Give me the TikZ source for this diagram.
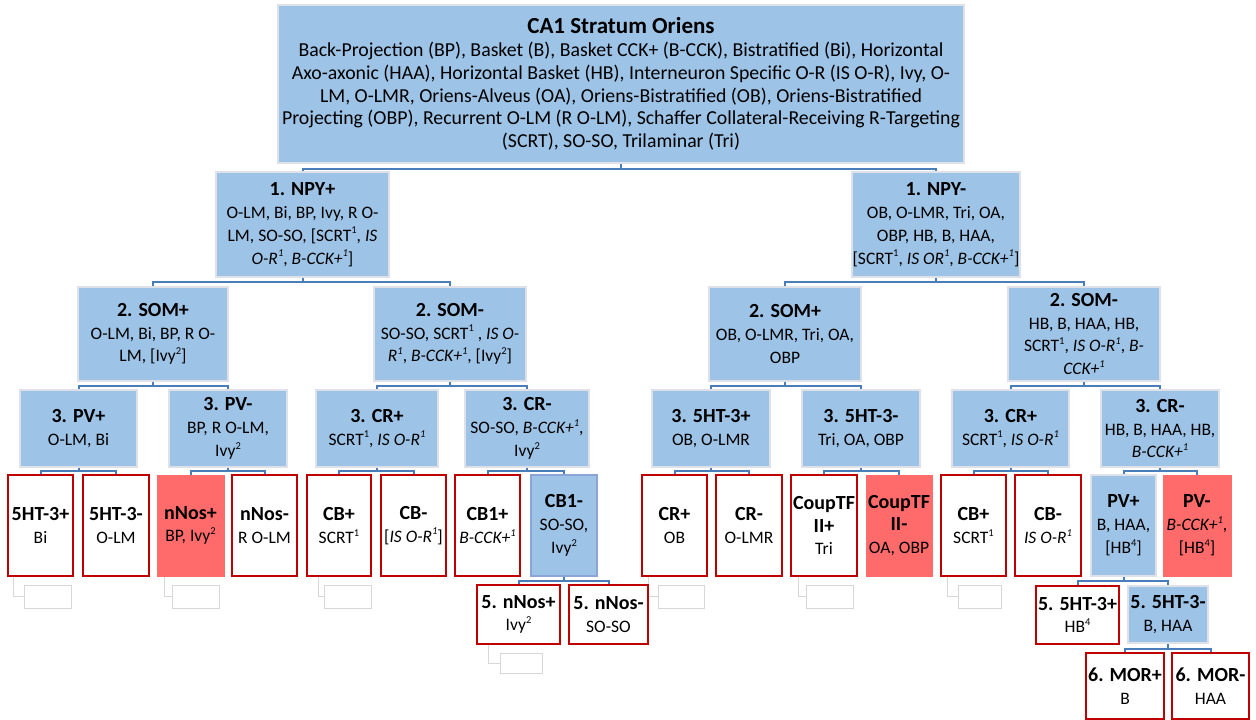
\documentclass[tikz,border=0pt]{standalone}
\usepackage{fontspec}
\setmainfont{Carlito}
\definecolor{bfill}{RGB}{157,195,230}
\definecolor{rfill}{RGB}{255,107,107}
\definecolor{rline}{RGB}{192,0,0}
\definecolor{cline}{RGB}{74,126,187}
\definecolor{bline}{RGB}{222,226,232}
\definecolor{cbline}{RGB}{140,165,215}
\definecolor{gline}{RGB}{215,215,215}
\newcommand\bodyf{\fontsize{17.5}{22.8}\selectfont}
\newcommand\topf{\fontsize{19.8}{24}\selectfont}
\newcommand\tl[1]{{\fontsize{20}{22.8}\selectfont\bfseries #1}}
\newcommand\sps[1]{\raisebox{0.42em}{\fontsize{10.5}{10.5}\selectfont #1}}
\newcommand\bx[7]{\node[#2, minimum width=#4pt-#3pt, minimum height=#6pt-#5pt] (#1) at ({(#3+#4)/2},{(#5+#6)/2}) {#7};}
\newcommand\famlink[4]{%
  \draw[conn] (#1.south) -- (#1.south |- #4);
  \draw[conn] (#2.north) -- (#2.north |- #4) -- (#3.north |- #4) -- (#3.north);}
\newcommand\ghostbox[6]{% name, x1, x2, y1, y2, vline x
  \node[ghost, minimum width=#3pt-#2pt, minimum height=#5pt-#4pt] (#1) at ({(#2+#3)/2},{(#4+#5)/2}) {};
  \coordinate (#1s) at (#6,{#4-8});
  \draw[ghostline] (#1s) |- (#1.west);}
\tikzset{
  base/.style={rectangle, inner sep=0pt, align=center, font=\bodyf, text=black},
  bluebox/.style={base, fill=bfill, draw=bline, line width=1.2pt},
  cbbox/.style={base, fill=bfill, draw=cbline, line width=1.2pt},
  redbox/.style={base, fill=white, draw=rline, line width=2pt},
  redfill/.style={base, fill=rfill, draw=rfill, line width=1pt},
  conn/.style={draw=cline, line width=2pt},
  ghost/.style={rectangle, draw=gline, line width=1pt, inner sep=0pt, fill=white},
  ghostline/.style={draw=gline, line width=1pt},
}
\begin{document}
\begin{tikzpicture}[x=1pt,y=-1pt]
\useasboundingbox[fill=white] (0,0) rectangle (1256,720);

% bus coordinates
\coordinate (y0) at (0,169);
\coordinate (y1) at (0,282);
\coordinate (y2) at (0,385.5);
\coordinate (y3) at (0,471);
\coordinate (y4) at (0,581);
\coordinate (y5) at (0,649);

% ghost shapes
\ghostbox{g1}{24}{71}{585}{608}{13}
\ghostbox{g2}{172}{219}{585}{608}{164}
\ghostbox{g3}{324}{371}{585}{608}{318}
\ghostbox{g4}{500}{542}{653}{673}{488}
\ghostbox{g5}{658}{704}{585}{608}{648}
\ghostbox{g6}{806}{853}{585}{608}{798}
\ghostbox{g7}{958}{1001}{585}{608}{947}

% top
\bx{top}{bluebox}{278}{964}{5}{163}{{\fontsize{23}{24}\selectfont\bfseries CA1 Stratum Oriens}\\
{\topf Back-Projection (BP), Basket (B), Basket CCK+ (B-CCK), Bistratified (Bi), Horizontal}\\
{\topf Axo-axonic (HAA), Horizontal Basket (HB), Interneuron Specific O-R (IS O-R), Ivy, O-}\\
{\topf LM, O-LMR, Oriens-Alveus (OA), Oriens-Bistratified (OB), Oriens-Bistratified}\\
{\topf Projecting (OBP), Recurrent O-LM (R O-LM), Schaffer Collateral-Receiving R-Targeting}\\
{\topf (SCRT), SO-SO, Trilaminar (Tri)}}

% level 1
\bx{npyp}{bluebox}{216}{389}{172}{277}{\tl{1. NPY+}\\O-LM, Bi, BP, Ivy, R O-\\LM, SO-SO, {[}SCRT\sps{1}, \textit{IS}\\\textit{O-R\sps{1}}, \textit{B-CCK+\sps{1}}]}
\bx{npym}{bluebox}{852}{1020}{172}{277}{\tl{1. NPY-}\\OB, O-LMR, Tri, OA,\\OBP, HB, B, HAA,\\{[}SCRT\sps{1}, \textit{IS OR\sps{1}}, \textit{B-CCK+\sps{1}}]}

% level 2
\bx{spL}{bluebox}{78}{228}{287}{381}{\tl{2. SOM+}\\O-LM, Bi, BP, R O-\\LM, {[}Ivy\sps{2}]}
\bx{smL}{bluebox}{374}{526}{287}{381}{\tl{2. SOM-}\\SO-SO, SCRT\sps{1} , \textit{IS O-}\\\textit{R\sps{1}}, \textit{B-CCK+\sps{1}}, {[}Ivy\sps{2}]}
\bx{spR}{bluebox}{709}{861}{287}{381}{\tl{2. SOM+}\\OB, O-LMR, Tri, OA,\\OBP}
\bx{smR}{bluebox}{1008}{1160}{287}{381}{\tl{2. SOM-}\\HB, B, HAA, HB,\\SCRT\sps{1}, \textit{IS O-R\sps{1}}, \textit{B-}\\\textit{CCK+\sps{1}}}

% level 3
\bx{pvp}{bluebox}{20}{137}{390}{467}{\tl{3. PV+}\\O-LM, Bi}
\bx{pvm}{bluebox}{169}{287}{390}{467}{\tl{3. PV-}\\BP, R O-LM,\\Ivy\sps{2}}
\bx{crpL}{bluebox}{316}{438}{390}{467}{\tl{3. CR+}\\SCRT\sps{1}, \textit{IS O-R\sps{1}}}
\bx{crmL}{bluebox}{465}{589}{390}{467}{\tl{3. CR-}\\SO-SO, \textit{B-CCK+\sps{1}},\\Ivy\sps{2}}
\bx{htp}{bluebox}{652}{770}{390}{467}{\tl{3. 5HT-3+}\\OB, O-LMR}
\bx{htm}{bluebox}{802}{920}{390}{467}{\tl{3. 5HT-3-}\\Tri, OA, OBP}
\bx{crpR}{bluebox}{952}{1069}{390}{467}{\tl{3. CR+}\\SCRT\sps{1}, \textit{IS O-R\sps{1}}}
\bx{crmR}{bluebox}{1101}{1219}{390}{467}{\tl{3. CR-}\\HB, B, HAA, HB,\\\textit{B-CCK+\sps{1}}}

% level 4
\bx{a1}{redbox}{8}{73}{475}{576}{\tl{5HT-3+}\\Bi}
\bx{a2}{redbox}{83}{149}{475}{576}{\tl{5HT-3-}\\O-LM}
\bx{a3}{redfill}{157}{224}{475}{576}{\tl{nNos+}\\BP, Ivy\sps{2}}
\bx{a4}{redbox}{232}{297}{475}{576}{\tl{nNos-}\\R O-LM}
\bx{a5}{redbox}{307}{371}{475}{576}{\tl{CB+}\\SCRT\sps{1}}
\bx{a6}{redbox}{381}{446}{475}{576}{\tl{CB-}\\{[}\textit{IS O-R\sps{1}}]}
\bx{a7}{redbox}{455}{520}{475}{576}{\tl{CB1+}\\\textit{B-CCK+\sps{1}}}
\bx{a8}{cbbox}{531}{597}{475}{576}{\tl{CB1-}\\SO-SO,\\Ivy\sps{2}}
\bx{b1}{redbox}{642}{707}{475}{576}{\tl{CR+}\\OB}
\bx{b2}{redbox}{716}{782}{475}{576}{\tl{CR-}\\O-LMR}
\bx{b3}{redbox}{791}{857}{475}{576}{\tl{CoupTF}\\\tl{II+}\\Tri}
\bx{b4}{redfill}{866}{932}{475}{576}{\tl{CoupTF}\\\tl{II-}\\OA, OBP}
\bx{b5}{redbox}{941}{1006}{475}{576}{\tl{CB+}\\SCRT\sps{1}}
\bx{b6}{redbox}{1015}{1081}{475}{576}{\tl{CB-}\\\textit{IS O-R\sps{1}}}
\bx{b7}{bluebox}{1091}{1156}{475}{576}{\tl{PV+}\\B, HAA,\\{[}HB\sps{4}]}
\bx{b8}{redfill}{1163}{1231}{475}{576}{\tl{PV-}\\\textit{B-CCK+\sps{1}},\\{[}HB\sps{4}]}

% level 5
\bx{c1}{redbox}{477}{560}{585}{644}{\tl{5. nNos+}\\Ivy\sps{2}}
\bx{c2}{redbox}{569}{648}{585}{644}{\tl{5. nNos-}\\SO-SO}
\bx{c3}{redbox}{1036}{1119}{586}{644}{\tl{5. 5HT-3+}\\HB\sps{4}}
\bx{c4}{bluebox}{1128}{1208}{586}{643}{\tl{5. 5HT-3-}\\B, HAA}

% level 6
\bx{d1}{redbox}{1086}{1164}{653}{719}{\tl{6. MOR+}\\B}
\bx{d2}{redbox}{1172}{1249}{653}{719}{\tl{6. MOR-}\\HAA}

% connectors
\famlink{top}{npyp}{npym}{y0}
\famlink{npyp}{spL}{smL}{y1}
\famlink{npym}{spR}{smR}{y1}
\famlink{spL}{pvp}{pvm}{y2}
\famlink{smL}{crpL}{crmL}{y2}
\famlink{spR}{htp}{htm}{y2}
\famlink{smR}{crpR}{crmR}{y2}
\famlink{pvp}{a1}{a2}{y3}
\famlink{pvm}{a3}{a4}{y3}
\famlink{crpL}{a5}{a6}{y3}
\famlink{crmL}{a7}{a8}{y3}
\famlink{htp}{b1}{b2}{y3}
\famlink{htm}{b3}{b4}{y3}
\famlink{crpR}{b5}{b6}{y3}
\famlink{crmR}{b7}{b8}{y3}
\famlink{a8}{c1}{c2}{y4}
\famlink{b7}{c3}{c4}{y4}
\famlink{c4}{d1}{d2}{y5}
\end{tikzpicture}
\end{document}
